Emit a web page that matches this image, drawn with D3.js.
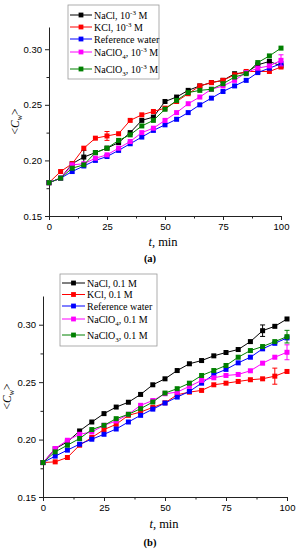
<!DOCTYPE html>
<html>
<head>
<meta charset="utf-8">
<script src="https://cdn.jsdelivr.net/npm/d3@7"></script>
<style>
  body { margin: 0; background: #fff; }
  svg { display: block; font-family: "Liberation Serif", "Times New Roman", serif; }
</style>
</head>
<body>
<script>
// time points (min)
const times = [0, 5, 10, 15, 20, 25, 30, 35, 40, 45, 50, 55, 60, 65, 70, 75, 80, 85, 90, 95, 100];

const yTicks = [0.15, 0.20, 0.25, 0.30];
const yMinor = [0.175, 0.225, 0.275];
const xTicks = [0, 25, 50, 75, 100];
const xMinor = [12.5, 37.5, 62.5, 87.5];

const colors = ["#000000", "#ff0000", "#0000ff", "#ff00ff", "#008000"];

// (a) 10^-3 M
const naclA    = [0.180, 0.184, 0.197, 0.203, 0.207, 0.211, 0.216, 0.225, 0.236, 0.239, 0.253, 0.257, 0.263, 0.267, 0.270, 0.272, 0.278, 0.279, 0.286, 0.289, 0.285];
const kclA     = [0.180, 0.190, 0.197, 0.211, 0.220, 0.222, 0.224, 0.236, 0.241, 0.244, 0.247, 0.253, 0.260, 0.267, 0.270, 0.272, 0.277, 0.280, 0.280, 0.280, 0.284];
const refA     = [0.180, 0.184, 0.190, 0.195, 0.200, 0.2035, 0.209, 0.215, 0.221, 0.227, 0.232, 0.237, 0.243, 0.250, 0.256, 0.262, 0.267, 0.272, 0.279, 0.283, 0.287];
const naclo4A  = [0.180, 0.184, 0.196, 0.197, 0.202, 0.205, 0.211, 0.217, 0.225, 0.229, 0.236, 0.243, 0.251, 0.257, 0.264, 0.267, 0.272, 0.279, 0.283, 0.285, 0.290];
const naclo3A  = [0.180, 0.184, 0.193, 0.196, 0.207, 0.211, 0.218, 0.223, 0.231, 0.236, 0.246, 0.254, 0.261, 0.263, 0.264, 0.269, 0.275, 0.278, 0.288, 0.294, 0.301];

// (b) 0.1 M
const naclB    = [0.180, 0.192, 0.198, 0.2075, 0.2153, 0.2226, 0.2283, 0.2325, 0.2393, 0.2477, 0.2529, 0.2601, 0.266, 0.2688, 0.2729, 0.2758, 0.2784, 0.2853, 0.2948, 0.2986, 0.305];
const kclB     = [0.180, 0.1806, 0.1844, 0.1951, 0.2018, 0.2087, 0.2133, 0.2211, 0.224, 0.228, 0.232, 0.239, 0.2413, 0.2428, 0.2477, 0.2491, 0.2506, 0.2521, 0.2529, 0.2552, 0.2593];
const refB     = [0.180, 0.1856, 0.1908, 0.196, 0.2003, 0.2046, 0.2092, 0.2153, 0.2211, 0.2265, 0.2318, 0.237, 0.2419, 0.2491, 0.2567, 0.2611, 0.2668, 0.2717, 0.279, 0.2838, 0.2885];
const naclo4B  = [0.180, 0.1922, 0.1994, 0.2046, 0.2066, 0.2124, 0.2162, 0.222, 0.2298, 0.234, 0.2399, 0.2413, 0.2463, 0.2515, 0.2538, 0.2558, 0.2567, 0.2599, 0.2665, 0.2717, 0.276];
const naclo3B  = [0.180, 0.1893, 0.1951, 0.2009, 0.2087, 0.2124, 0.2182, 0.222, 0.2269, 0.2327, 0.2405, 0.2443, 0.2491, 0.2558, 0.2601, 0.2645, 0.2717, 0.2775, 0.281, 0.2853, 0.2896];

// error bars : [series index, time, half width]
const errA = [[0, 15, 0.006], [1, 25, 0.004], [3, 100, 0.005]];
const errB = [[0, 90, 0.005], [1, 95, 0.007], [3, 100, 0.0065], [4, 100, 0.0055]];

// legend labels, pieces : [text, "" | "sub" | "sup"]
const legendA = [
  [["NaCl, 10", ""], ["-3", "sup"], [" M", ""]],
  [["KCl, 10", ""], ["-3", "sup"], [" M", ""]],
  [["Reference water", ""]],
  [["NaClO", ""], ["4", "sub"], [", 10", ""], ["-3", "sup"], [" M", ""]],
  [["NaClO", ""], ["3", "sub"], [", 10", ""], ["-3", "sup"], [" M", ""]]
];
const legendB = [
  [["NaCl, 0.1 M", ""]],
  [["KCl, 0.1 M", ""]],
  [["Reference water", ""]],
  [["NaClO", ""], ["4", "sub"], [", 0.1 M", ""]],
  [["NaClO", ""], ["3", "sub"], [", 0.1 M", ""]]
];

const svg = d3.create("svg")
  .attr("width", 297)
  .attr("height", 550)
  .attr("viewBox", [0, 0, 297, 550]);

function richText(sel, parts, size) {
  let shift = 0;
  parts.forEach(([t, kind]) => {
    let target = kind == "sup" ? -4 : kind == "sub" ? 3 : 0;
    sel.append("tspan")
      .attr("dy", target - shift)
      .style("font-size", kind ? (size * 0.7) + "px" : size + "px")
      .text(t);
    shift = target;
  });
}

function panel(cfg) {
  const g = svg.append("g");

  let x = d3.scaleLinear().domain([0, 100]).range([cfg.x0, cfg.x1]);
  let y = d3.scaleLinear().domain([0.15, cfg.yMax]).range([cfg.yBottom, cfg.yTop]);

  // axes
  g.append("g")
    .attr("transform", `translate(0,${cfg.yBottom})`)
    .call(d3.axisBottom(x).tickValues(xTicks).tickSize(4).tickSizeOuter(0).tickPadding(3))
    .call(a => a.selectAll("text").style("font-size", "9.5px").style("font-family", "inherit"));
  g.append("g")
    .attr("transform", `translate(0,${cfg.yBottom})`)
    .call(d3.axisBottom(x).tickValues(xMinor).tickSize(2.5).tickSizeOuter(0).tickFormat(""))
    .call(a => a.select(".domain").remove());
  g.append("g")
    .attr("transform", `translate(${cfg.x0},0)`)
    .call(d3.axisLeft(y).tickValues(yTicks).tickSize(4).tickSizeOuter(0).tickPadding(3).tickFormat(d3.format(".2f")))
    .call(a => a.selectAll("text").style("font-size", "9.5px").style("font-family", "inherit"));
  g.append("g")
    .attr("transform", `translate(${cfg.x0},0)`)
    .call(d3.axisLeft(y).tickValues(yMinor).tickSize(2.5).tickSizeOuter(0).tickFormat(""))
    .call(a => a.select(".domain").remove());
  g.selectAll(".domain, .tick line").attr("stroke", "#222");

  // series
  let line = d3.line().x((d, i) => x(times[i])).y(d => y(d));
  cfg.series.forEach((vals, k) => {
    g.append("path")
      .attr("d", line(vals))
      .attr("fill", "none")
      .attr("stroke", colors[k])
      .attr("stroke-width", 1);
    cfg.errs.filter(e => e[0] == k).forEach(([s, t, e]) => {
      let i = times.indexOf(t);
      let cx = x(t);
      g.append("path")
        .attr("d", `M${cx},${y(vals[i] - e)}V${y(vals[i] + e)}M${cx - 2.5},${y(vals[i] - e)}h5M${cx - 2.5},${y(vals[i] + e)}h5`)
        .attr("stroke", colors[k]).attr("stroke-width", 1).attr("fill", "none");
    });
    g.append("g").selectAll("rect")
      .data(vals)
      .enter()
      .append("rect")
      .attr("x", (d, i) => x(times[i]) - 2.5)
      .attr("y", d => y(d) - 2.5)
      .attr("width", 5)
      .attr("height", 5)
      .attr("fill", colors[k]);
  });

  // legend
  const lg = cfg.legend;
  g.append("rect")
    .attr("x", lg.x).attr("y", lg.y).attr("width", lg.w).attr("height", lg.h)
    .attr("fill", "#fff").attr("stroke", "#999").attr("stroke-width", 0.8);
  cfg.labels.forEach((parts, k) => {
    let ry = lg.rows[k];
    g.append("line")
      .attr("x1", lg.l0).attr("x2", lg.l1).attr("y1", ry).attr("y2", ry)
      .attr("stroke", colors[k]).attr("stroke-width", 1);
    g.append("rect")
      .attr("x", (lg.l0 + lg.l1) / 2 - 2.4).attr("y", ry - 2.4)
      .attr("width", 4.8).attr("height", 4.8).attr("fill", colors[k]);
    let t = g.append("text")
      .attr("x", lg.tx).attr("y", ry + 3.5);
    richText(t, parts, 10);
  });

  // axis titles
  let yl = g.append("text")
    .attr("transform", `translate(${cfg.yLabelX},${(cfg.yBottom + cfg.yTop) / 2}) rotate(-90)`)
    .attr("text-anchor", "middle")
    .style("font-size", "11.5px");
  yl.append("tspan").text("<");
  yl.append("tspan").style("font-style", "italic").text("C");
  yl.append("tspan").attr("dy", 3).style("font-size", "8px").style("font-style", "italic").text("w");
  yl.append("tspan").attr("dy", -3).text(">");

  let xl = g.append("text")
    .attr("x", cfg.xLabelX).attr("y", cfg.xLabelY)
    .attr("text-anchor", "middle")
    .style("font-size", "12.5px");
  xl.append("tspan").style("font-style", "italic").text("t");
  xl.append("tspan").text(", min");

  g.append("text")
    .attr("x", cfg.capX).attr("y", cfg.capY)
    .attr("text-anchor", "middle")
    .style("font-size", "10.5px")
    .style("font-weight", "bold")
    .text(cfg.caption);
}

panel({
  x0: 49, x1: 281, yBottom: 216, yTop: 27, yMax: 0.32,
  series: [naclA, kclA, refA, naclo4A, naclo3A], errs: errA, labels: legendA,
  legend: { x: 68, y: 5, w: 91, h: 74, rows: [15, 27, 39, 52, 69], l0: 70, l1: 92, tx: 94 },
  yLabelX: 19, xLabelX: 163, xLabelY: 246, capX: 150, capY: 262, caption: "(a)"
});

panel({
  x0: 43, x1: 287, yBottom: 497, yTop: 296, yMax: 0.325,
  series: [naclB, kclB, refB, naclo4B, naclo3B], errs: errB, labels: legendB,
  legend: { x: 60, y: 274, w: 97, h: 72, rows: [283, 294.5, 306, 319, 335], l0: 62, l1: 85, tx: 87 },
  yLabelX: 11, xLabelX: 164, xLabelY: 528, capX: 150, capY: 546, caption: "(b)"
});

document.body.appendChild(svg.node());
</script>
</body>
</html>
